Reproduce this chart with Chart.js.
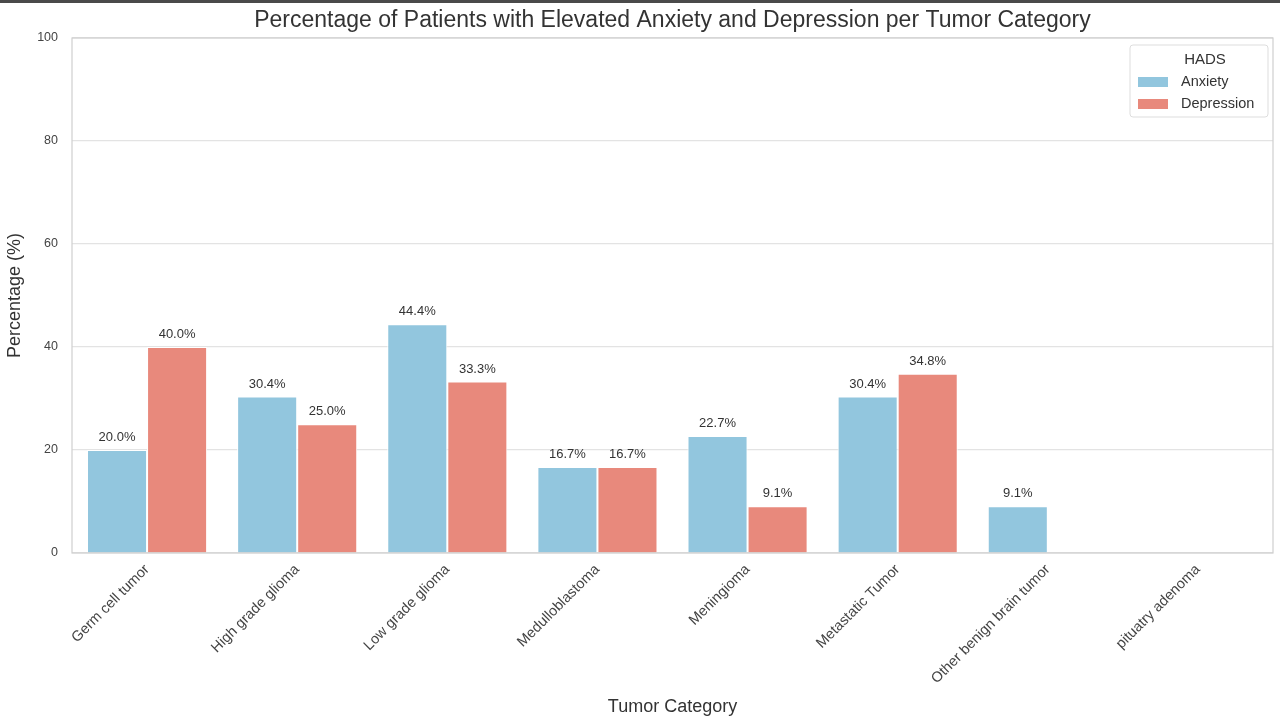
<!DOCTYPE html>
<html>
<head>
<meta charset="utf-8">
<script src="https://cdn.jsdelivr.net/npm/chart.js@4.4.0/dist/chart.umd.min.js"></script>
<style>
    html, body { margin: 0; padding: 0; background: #ffffff; }
    #wrap { position: relative; width: 1280px; height: 720px; }
    #topbar { position: absolute; left: 0; top: 0; width: 1280px; height: 3px; background: #4a4a4a; }
</style>
</head>
<body>
<div id="wrap">
    <canvas id="chart" width="1280" height="720"></canvas>
    <div id="topbar"></div>
</div>
<script>
var categories = ["Germ cell tumor", "High grade glioma", "Low grade glioma", "Medulloblastoma",
    "Meningioma", "Metastatic Tumor", "Other benign brain tumor", "pituatry adenoma"]
var anxiety = [20.0, 30.4, 44.4, 16.7, 22.7, 30.4, 9.1, 0]
var depression = [40.0, 25.0, 33.3, 16.7, 9.1, 34.8, 0, 0]
var y_ticks = [0, 20, 40, 60, 80, 100]
var chart_title = "Percentage of Patients with Elevated Anxiety and Depression per Tumor Category"

var anxiety_color = "#92c6de"
var depression_color = "#e8897c"
var font_family = "'Liberation Sans', Arial, sans-serif"

// value labels above each bar, skipping empty ones
var barLabels = {
    id: "barLabels",
    afterDatasetsDraw(chart) {
        let ctx = chart.ctx
        ctx.save()
        ctx.font = "13px " + font_family
        ctx.fillStyle = "#333333"
        ctx.textAlign = "center"
        ctx.textBaseline = "bottom"
        chart.data.datasets.forEach((ds, i) => {
            chart.getDatasetMeta(i).data.forEach((bar, j) => {
                if (!ds.data[j]) return
                ctx.fillText(ds.data[j].toFixed(1) + "%", bar.x, bar.y - 6)
            })
        })
        ctx.restore()
    }
}

// title centred on the plot, frame round the plot area and a seaborn style legend box
var frameAndLegend = {
    id: "frameAndLegend",
    afterDraw(chart) {
        let ctx = chart.ctx
        let a = chart.chartArea
        ctx.save()
        ctx.fillStyle = "#333333"
        ctx.font = "23px " + font_family
        ctx.textAlign = "center"
        ctx.textBaseline = "middle"
        ctx.fillText(chart_title, (a.left + a.right) / 2, 21)

        ctx.strokeStyle = "#cfcfcf"
        ctx.lineWidth = 1.2
        ctx.strokeRect(a.left, a.top, a.right - a.left, a.bottom - a.top)

        let bx = a.right - 143, by = a.top + 7, bw = 138, bh = 72
        ctx.fillStyle = "rgba(255,255,255,0.9)"
        ctx.strokeStyle = "#dddddd"
        ctx.lineWidth = 1
        ctx.beginPath()
        ctx.roundRect(bx, by, bw, bh, 3)
        ctx.fill()
        ctx.stroke()

        ctx.fillStyle = "#333333"
        ctx.font = "15px " + font_family
        ctx.textAlign = "center"
        ctx.textBaseline = "middle"
        ctx.fillText("HADS", bx + bw / 2 + 6, by + 15)

        ctx.font = "14.5px " + font_family
        ctx.textAlign = "left"
        chart.data.datasets.forEach((ds, i) => {
            let yy = by + 37 + i * 22
            ctx.fillStyle = ds.backgroundColor
            ctx.fillRect(bx + 8, yy - 5, 30, 10)
            ctx.fillStyle = "#333333"
            ctx.fillText(ds.label, bx + 51, yy)
        })
        ctx.restore()
    }
}

new Chart(document.getElementById("chart").getContext("2d"), {
    "type": "bar",
    "data": {
        "labels": categories,
        "datasets": [
            {
                "label": "Anxiety",
                "data": anxiety,
                "backgroundColor": anxiety_color,
                "borderColor": "#ffffff",
                "borderWidth": 1,
                "categoryPercentage": 0.8,
                "barPercentage": 1.0
            },
            {
                "label": "Depression",
                "data": depression,
                "backgroundColor": depression_color,
                "borderColor": "#ffffff",
                "borderWidth": 1,
                "categoryPercentage": 0.8,
                "barPercentage": 1.0
            }
        ]
    },
    "options": {
        "responsive": false,
        "animation": false,
        "layout": { "padding": { "left": 4, "right": 7, "top": 38, "bottom": 2 } },
        "plugins": {
            "legend": { "display": false },
            "tooltip": { "enabled": false },
            "title": { "display": false }
        },
        "scales": {
            "x": {
                "grid": { "display": false, "drawTicks": false },
                "border": { "display": false },
                "ticks": {
                    "color": "#444444",
                    "font": { "family": font_family, "size": 14.5 },
                    "maxRotation": 45,
                    "minRotation": 45,
                    "padding": 8,
                    "autoSkip": false
                },
                "title": {
                    "display": true,
                    "text": "Tumor Category",
                    "color": "#333333",
                    "font": { "family": font_family, "size": 18 },
                    "padding": { "top": 2, "bottom": 0 }
                },
                "afterFit": function (scale) { scale.height = 165 }
            },
            "y": {
                "min": 0,
                "max": 100,
                "afterBuildTicks": function (scale) { scale.ticks = y_ticks.map(v => ({ value: v })) },
                "grid": { "color": "#e3e3e3", "lineWidth": 1.2, "drawTicks": false },
                "border": { "display": false },
                "ticks": {
                    "color": "#444444",
                    "font": { "family": font_family, "size": 12.5 },
                    "padding": 14
                },
                "title": {
                    "display": true,
                    "text": "Percentage (%)",
                    "color": "#333333",
                    "font": { "family": font_family, "size": 18 },
                    "padding": { "top": 0, "bottom": 0 }
                },
                "afterFit": function (scale) { scale.width = 68 }
            }
        }
    },
    "plugins": [barLabels, frameAndLegend]
})
</script>
</body>
</html>
